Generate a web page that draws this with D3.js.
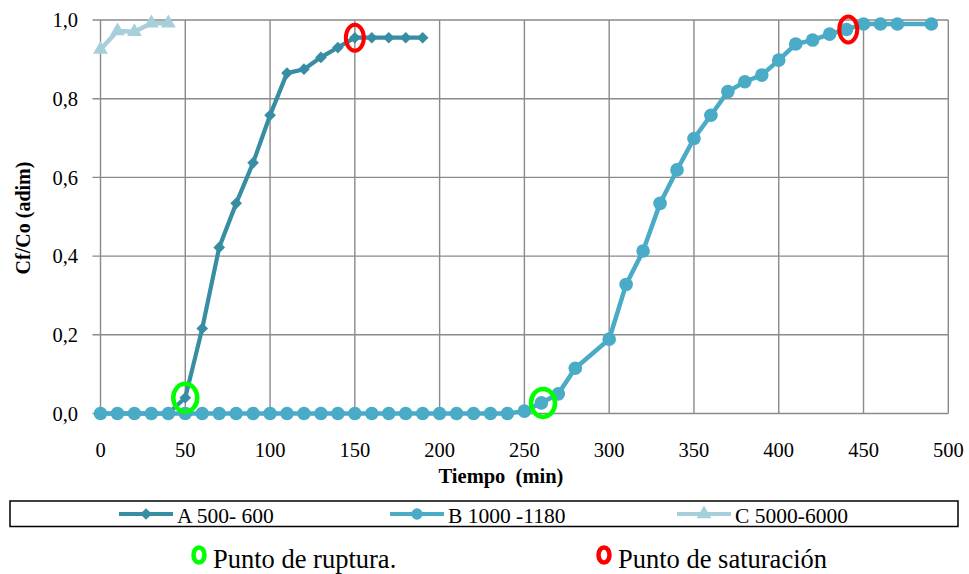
<!DOCTYPE html>
<html>
<head>
<meta charset="utf-8">
<script src="https://cdn.jsdelivr.net/npm/d3@7"></script>
<style>
    body { margin: 0; padding: 0; background: #fff; }
</style>
</head>
<body>
<script>
// series A 500- 600 (diamonds)
const timeA = [0, 10, 20, 30, 40, 50, 60, 70, 80, 90, 100, 110, 120, 130, 140, 150, 160, 170, 180, 190];
const valA  = [0, 0, 0, 0, 0, 0.04, 0.216, 0.422, 0.534, 0.637, 0.758, 0.865, 0.875, 0.905, 0.93, 0.955, 0.955, 0.955, 0.955, 0.955];

// series B 1000 -1180 (circles)
const timeB = [0, 10, 20, 30, 40, 50, 60, 70, 80, 90, 100, 110, 120, 130, 140, 150, 160, 170, 180, 190,
               200, 210, 220, 230, 240, 250, 260, 270, 280, 300, 310, 320, 330, 340, 350, 360, 370, 380,
               390, 400, 410, 420, 430, 440, 450, 460, 470, 490];
const valB  = [0, 0, 0, 0, 0, 0, 0, 0, 0, 0, 0, 0, 0, 0, 0, 0, 0, 0, 0, 0,
               0, 0, 0, 0, 0, 0.006, 0.027, 0.05, 0.115, 0.189, 0.328, 0.413, 0.534, 0.619, 0.699, 0.758, 0.818, 0.843,
               0.86, 0.898, 0.939, 0.949, 0.964, 0.976, 0.99, 0.99, 0.99, 0.99];

// series C 5000-6000 (triangles)
const timeC = [0, 10, 20, 30, 40];
const valC  = [0.925, 0.972, 0.97, 0.992, 0.992];

// marked points
const rupturePts = [[50, 0.04], [261, 0.027]];
const saturationPts = [[150, 0.955], [441, 0.976]];

const xTicks = [0, 50, 100, 150, 200, 250, 300, 350, 400, 450, 500];
const yTicks = [0, 0.2, 0.4, 0.6, 0.8, 1.0];

const seriesNames = ['A 500- 600', 'B 1000 -1180', 'C 5000-6000'];
const colors = ['#378ea3', '#4aabc6', '#a7cfdb'];

const FONT = "'Liberation Serif'";
const width = 969, height = 574;
const svg = d3.select('body').append('svg')
    .attr('width', width)
    .attr('height', height);

const x = d3.scaleLinear().domain([0, 500]).range([100.5, 948.3]);
const y = d3.scaleLinear().domain([0, 1]).range([413.5, 20]);

// grid
svg.append('g')
    .selectAll('line')
    .data(xTicks)
    .join('line')
        .attr('x1', d => x(d)).attr('x2', d => x(d))
        .attr('y1', y(0)).attr('y2', y(1))
        .attr('stroke', '#8a8a8a').attr('stroke-width', 1.4);
svg.append('g')
    .selectAll('line')
    .data(yTicks)
    .join('line')
        .attr('x1', x(0) - 8).attr('x2', x(500))
        .attr('y1', d => y(d)).attr('y2', d => y(d))
        .attr('stroke', '#8a8a8a').attr('stroke-width', 1.4);

// tick labels
const fmt = d => d3.format('.1f')(d).replace('.', ',');
svg.append('g')
    .selectAll('text')
    .data(yTicks)
    .join('text')
        .attr('x', 78).attr('y', d => y(d))
        .attr('dy', '0.35em')
        .attr('text-anchor', 'end')
        .style('font-family', FONT)
        .style('font-size', '20.5px')
        .text(fmt);
svg.append('g')
    .selectAll('text')
    .data(xTicks)
    .join('text')
        .attr('x', d => x(d)).attr('y', 450)
        .attr('dy', '0.35em')
        .attr('text-anchor', 'middle')
        .style('font-family', FONT)
        .style('font-size', '20.5px')
        .text(d => d);

// axis titles
svg.append('text')
    .attr('x', 501).attr('y', 476).attr('dy', '0.35em')
    .attr('text-anchor', 'middle')
    .style('font-family', FONT)
    .style('font-size', '20.5px').style('font-weight', 'bold')
    .style('white-space', 'pre')
    .text('Tiempo  (min)');
svg.append('text')
    .attr('transform', 'translate(23,218) rotate(-90)')
    .attr('dy', '0.35em')
    .attr('text-anchor', 'middle')
    .style('font-family', FONT)
    .style('font-size', '20px').style('font-weight', 'bold')
    .text('Cf/Co (adim)');

const line = d3.line().x(d => x(d[0])).y(d => y(d[1]));
const diamond = d3.symbol().type(d3.symbolSquare).size(68);
const triangle = d3.symbol().type(d3.symbolTriangle).size(95);

const dataA = timeA.map((t, i) => [t, valA[i]]);
const dataB = timeB.map((t, i) => [t, valB[i]]);
const dataC = timeC.map((t, i) => [t, valC[i]]);

// A
svg.append('path').datum(dataA).attr('d', line)
    .attr('fill', 'none').attr('stroke', colors[0]).attr('stroke-width', 4.2);
svg.append('g').selectAll('path')
    .data(dataA)
    .join('path')
        .attr('d', diamond)
        .attr('transform', d => `translate(${x(d[0])},${y(d[1])}) rotate(45)`)
        .attr('fill', colors[0]);

// B
svg.append('path').datum(dataB).attr('d', line)
    .attr('fill', 'none').attr('stroke', colors[1]).attr('stroke-width', 4.5);
svg.append('g').selectAll('circle')
    .data(dataB)
    .join('circle')
        .attr('cx', d => x(d[0])).attr('cy', d => y(d[1]))
        .attr('r', 6.8)
        .attr('fill', colors[1]);

// C
svg.append('path').datum(dataC).attr('d', line)
    .attr('fill', 'none').attr('stroke', colors[2]).attr('stroke-width', 4.5);
svg.append('g').selectAll('path')
    .data(dataC)
    .join('path')
        .attr('d', triangle)
        .attr('transform', d => `translate(${x(d[0])},${y(d[1])})`)
        .attr('fill', colors[2]);

// ruptura / saturacion markers
svg.append('g').selectAll('ellipse')
    .data(rupturePts)
    .join('ellipse')
        .attr('cx', d => x(d[0])).attr('cy', d => y(d[1]))
        .attr('rx', 12).attr('ry', 14)
        .attr('fill', 'none').attr('stroke', '#00ff00').attr('stroke-width', 4.5);
svg.append('g').selectAll('ellipse')
    .data(saturationPts)
    .join('ellipse')
        .attr('cx', d => x(d[0])).attr('cy', d => y(d[1]))
        .attr('rx', 9).attr('ry', 13)
        .attr('fill', 'none').attr('stroke', '#ff0000').attr('stroke-width', 4);

// legend box
svg.append('rect')
    .attr('x', 10).attr('y', 501)
    .attr('width', 948).attr('height', 25.5)
    .attr('fill', 'none').attr('stroke', '#000').attr('stroke-width', 1.5);

const legendX = [119, 390, 677];
const leg = svg.append('g').selectAll('g')
    .data(seriesNames)
    .join('g')
        .attr('transform', (d, i) => `translate(${legendX[i]},514)`);
leg.append('line')
    .attr('x1', 0).attr('x2', 54)
    .attr('stroke', (d, i) => colors[i]).attr('stroke-width', 4);
leg.append('path')
    .attr('d', (d, i) => i === 0 ? diamond() : i === 1 ? d3.symbol().type(d3.symbolCircle).size(100)() : triangle())
    .attr('transform', (d, i) => i === 0 ? 'translate(27,0) rotate(45)' : 'translate(27,0)')
    .attr('fill', (d, i) => colors[i]);
leg.append('text')
    .attr('x', 58).attr('y', 1).attr('dy', '0.35em')
    .style('font-family', FONT)
    .style('font-size', '21.5px')
    .text(d => d);

// lower legend
const notes = [
    { label: 'Punto de ruptura.', color: '#00ff00', x: 199 },
    { label: 'Punto de saturación', color: '#ff0000', x: 604 }
];
const note = svg.append('g').selectAll('g')
    .data(notes)
    .join('g')
        .attr('transform', d => `translate(${d.x},555)`);
note.append('ellipse')
    .attr('rx', 5.5).attr('ry', 7.5)
    .attr('fill', 'none').attr('stroke', d => d.color).attr('stroke-width', 4.5);
note.append('text')
    .attr('x', 14).attr('y', 13)
    .style('font-family', FONT)
    .style('font-size', '26.5px')
    .text(d => d.label);
</script>
</body>
</html>
